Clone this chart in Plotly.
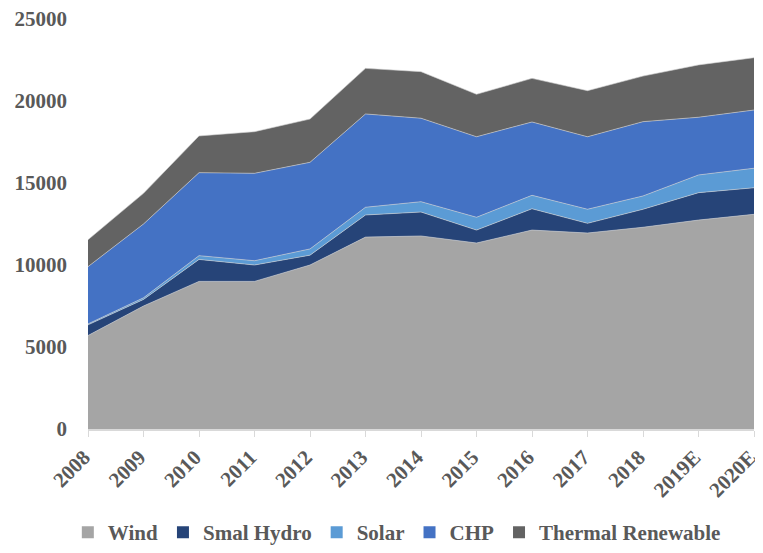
import plotly.graph_objects as go

years = ["2008", "2009", "2010", "2011", "2012", "2013", "2014", "2015",
         "2016", "2017", "2018", "2019E", "2020E"]
wind = [5700, 7500, 9000, 9000, 10000, 11700, 11770, 11340, 12130, 11950, 12300, 12740, 13090]
small_hydro = [650, 400, 1340, 1000, 600, 1350, 1460, 790, 1300, 590, 1100, 1670, 1620]
solar = [60, 100, 230, 260, 380, 470, 630, 780, 820, 860, 810, 1080, 1190]
chp = [3490, 4500, 5060, 5330, 5280, 5690, 5090, 4910, 4470, 4420, 4530, 3520, 3550]
thermal = [1640, 1870, 2240, 2540, 2640, 2780, 2840, 2590, 2660, 2810, 2780, 3190, 3190]

series = [
    ("Wind", wind, "#A5A5A5"),
    ("Smal Hydro", small_hydro, "#264478"),
    ("Solar", solar, "#5B9BD5"),
    ("CHP", chp, "#4472C4"),
    ("Thermal Renewable", thermal, "#636363"),
]

font_family = "Liberation Serif"
fig = go.Figure()
for name, vals, color in series:
    fig.add_trace(go.Scatter(
        x=years, y=vals, name=name, stackgroup="one", mode="lines",
        line=dict(width=0.6, color="#d0d0d0"), fillcolor=color, showlegend=False,
    ))
for name, vals, color in series:
    fig.add_trace(go.Scatter(
        x=[None], y=[None], name=name, mode="markers",
        marker=dict(symbol="square", size=12, color=color), showlegend=True,
    ))

fig.update_layout(
    width=755, height=545,
    margin=dict(l=80, r=9, t=11, b=124, autoexpand=False),
    plot_bgcolor="white", paper_bgcolor="white",
    font=dict(family=font_family, color="#595959", size=21, weight="bold"),
    showlegend=True,
    legend=dict(orientation="h", xref="container", yref="container",
                x=0.515, xanchor="center", y=0.0, yanchor="bottom",
                traceorder="normal",
                font=dict(size=21, family=font_family, color="#595959", weight="bold"),
                itemwidth=30, tracegroupgap=0),
    xaxis=dict(type="category", range=[0, 12], showgrid=False, showline=True,
               linecolor="#d9d9d9", linewidth=1.5, ticks="outside", ticklen=6,
               tickcolor="#d9d9d9", tickangle=-45, automargin=False,
               ticklabelshift=-4, ticklabeloverflow="allow",
               tickfont=dict(size=21, family=font_family, color="#595959", weight="bold")),
    yaxis=dict(range=[0, 25000], showgrid=False, showline=False, zeroline=False,
               tickvals=[0, 5000, 10000, 15000, 20000, 25000],
               ticktext=["0", "5000", "10000", "15000", "20000", "25000"],
               ticks="", ticklabelstandoff=20, automargin=False,
               ticklabeloverflow="allow",
               tickfont=dict(size=21, family=font_family, color="#595959", weight="bold")),
)

fig.write_html("out.html")
